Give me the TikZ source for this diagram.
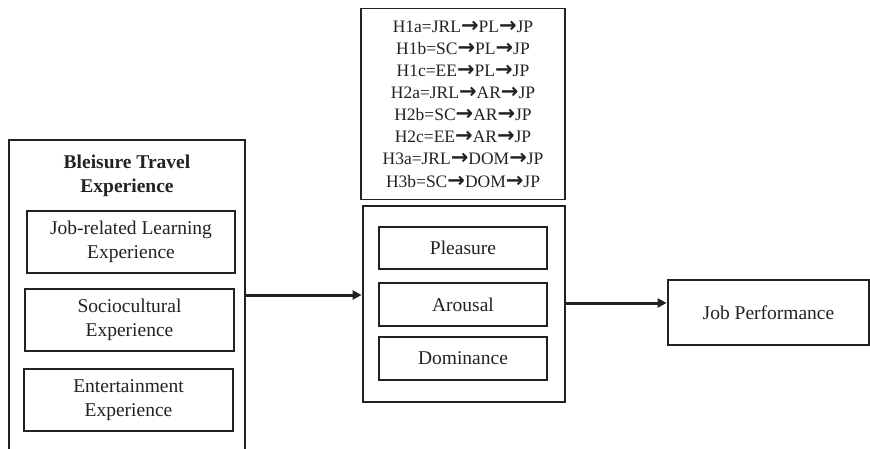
\documentclass[tikz,border=0pt]{standalone}
\usepackage{fontspec}
\setmainfont{Liberation Serif}
\newfontfamily\arrowfont{DejaVu Sans}
\usetikzlibrary{arrows.meta}
\definecolor{ink}{HTML}{222222}
% heavy arrow used inside the hypothesis list
\newcommand{\hto}{{\arrowfont\bfseries\fontsize{21}{22.1}\selectfont→}}
\begin{document}
\begin{tikzpicture}[x=1pt,y=-1pt,
  every node/.style={font=\fontsize{19.5}{24}\selectfont, text=ink},
  outer/.style={draw=ink, line width=2.8pt, inner sep=0pt},
  inner/.style={draw=ink, line width=1.3pt, inner sep=0pt, align=center},
  link/.style={draw=ink, line width=3pt, -{Triangle[length=9pt,width=9pt]}}]
\useasboundingbox (0,0) rectangle (870,448);

% hypotheses list
\node[inner, minimum width=204pt, minimum height=191pt,
      font=\fontsize{17.5}{22.1}\selectfont] (hyp) at (463,104)
  {H1a=JRL\hto PL\hto JP\\H1b=SC\hto PL\hto JP\\H1c=EE\hto PL\hto JP\\
   H2a=JRL\hto AR\hto JP\\H2b=SC\hto AR\hto JP\\H2c=EE\hto AR\hto JP\\
   H3a=JRL\hto DOM\hto JP\\H3b=SC\hto DOM\hto JP};

% bleisure travel experience (runs off the bottom edge)
\node[outer, minimum width=236pt, minimum height=320pt] (bte) at (127,300) {};
\node[align=center, font=\bfseries\fontsize{19.5}{24}\selectfont] (btt) at (127,176)
  {Bleisure Travel\\Experience};
\node[inner, minimum width=208pt, minimum height=62pt] (jrl) at (131,242)
  {Job-related Learning\\Experience};
\node[inner, minimum width=209pt, minimum height=62pt] (sc) at (129.5,320)
  {Sociocultural\\Experience};
\node[inner, minimum width=209pt, minimum height=62pt] (ee) at (128.5,400)
  {Entertainment\\Experience};

% emotional responses
\node[outer, minimum width=202pt, minimum height=196pt] (emo) at (464,304) {};
\node[inner, minimum width=168pt, minimum height=42pt] (pl) at (463,248) {Pleasure};
\node[inner, minimum width=168pt, minimum height=43pt] (ar) at (463,304.5) {Arousal};
\node[inner, minimum width=168pt, minimum height=43pt] (dom) at (463,358.5) {Dominance};

% outcome
\node[outer, minimum width=201pt, minimum height=65pt] (jp) at (768.5,312.5) {Job Performance};

% connectors
\coordinate (bteout) at (bte.east |- 0,295);
\draw[link] (bteout) -- (emo.west |- bteout);
\coordinate (emoout) at (emo.east |- 0,303);
\draw[link] (emoout) -- (jp.west |- emoout);
\end{tikzpicture}
\end{document}
